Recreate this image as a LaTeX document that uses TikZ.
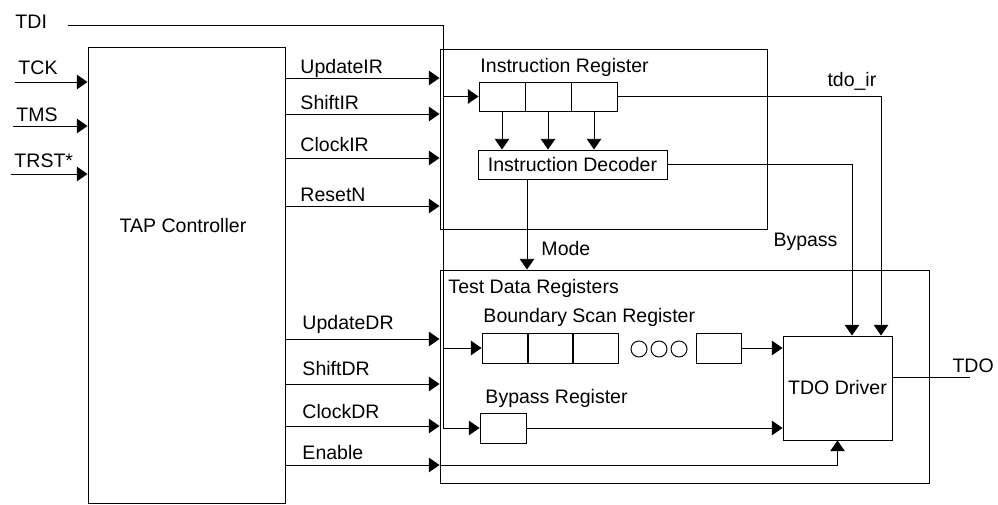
\documentclass[tikz,border=0pt]{standalone}
\usepackage{fontspec}
\setmainfont{Liberation Sans}
\usetikzlibrary{arrows.meta}
\newcommand{\pxl}{0.018cm}

\begin{document}
\begin{tikzpicture}[
x=\pxl, y=-\pxl,
line width=0.5pt,
blk/.style 2 args={draw, inner sep=0pt, minimum width=#1*\pxl, minimum height=#2*\pxl},
lbl/.style={inner sep=0pt, anchor=base west},
sig/.style={-{Triangle[length=5.5pt,width=7.5pt]}},
ring/.style={draw, circle, inner sep=0pt, minimum size=16*\pxl}
]
\useasboundingbox (0,0) rectangle (998,505);

% blocks
\node[blk={197}{456}] (tap) at (186.5,275) {};
\node (taplbl) at (183,226) {TAP Controller};
\node[blk={327}{180}] (ir) at (603.5,139) {};
\node[blk={489}{213}] (tdr) at (684.5,376.5) {};

\node[blk={46}{29}] (ir1) at (502,96.5) {};
\node[blk={46}{29}] (ir2) at (548,96.5) {};
\node[blk={46}{29}] (ir3) at (594,96.5) {};
\node[blk={189}{29}] (dec) at (572.5,164.5) {Instruction Decoder};

\node[blk={46}{30}] (bs1) at (505,348) {};
\node[blk={46}{30}] (bs2) at (550,348) {};
\node[blk={46}{30}] (bs3) at (595,348) {};
\node[ring] (d1) at (639,349) {};
\node[ring] (d2) at (659,349) {};
\node[ring] (d3) at (679,349) {};
\node[blk={45}{30}] (bs4) at (718.5,348) {};
\node[blk={46}{30}] (byp) at (503,428) {};
\node[blk={109}{104}] (drv) at (837.5,388) {TDO Driver};

% titles
\node[lbl] (lir) at (480,73) {Instruction Register};
\node[lbl] (ltdr) at (448,294) {Test Data Registers};
\node[lbl] (lbs) at (483,323) {Boundary Scan Register};
\node[lbl] (lbyp) at (485,403) {Bypass Register};

% inputs
\node[lbl] (ltdi) at (15,29) {TDI};
\foreach \n/\y/\x/\b in {TCK/82/15/75, TMS/126/13/122, TRST*/174/11/168} {
  \coordinate (in\y) at (\x,\y);
  \draw[sig] (in\y) -- (in\y -| tap.west);
  \node[lbl] at (\x+3,\b) {\n};
}

% tap outputs
\foreach \n/\y/\b in {UpdateIR/78/74, ShiftIR/114/110, ClockIR/158/152, ResetN/206/202} {
  \coordinate (o\n) at (285,\y);
  \draw[sig] (o\n) -- (o\n -| ir.west);
  \node[lbl] (l\n) at (300,\b) {\n};
}
\foreach \n/\y/\b in {UpdateDR/339/330, ShiftDR/384/376, ClockDR/426/418, Enable/465/459} {
  \coordinate (o\n) at (285,\y);
  \draw[sig] (o\n) -- (o\n -| tdr.west);
  \node[lbl] (l\n) at (302,\b) {\n};
}

% tdi
\coordinate (tdi) at (68,25);
\coordinate (tdiv) at (443,25);
\draw[sig] (tdi) -- (tdiv) |- (byp.west);
\draw[sig] (tdiv |- ir1.west) -- (ir1.west);
\draw[sig] (tdiv |- bs1.west) -- (bs1.west);

\foreach \c in {ir1,ir2,ir3}
  \draw[sig] (\c.south) -- (\c.south |- dec.north);

% mode
\coordinate (modex) at (527,0);
\draw[sig] (modex |- dec.south) -- (modex |- tdr.north);
\node[lbl] (lmode) at (541,256) {Mode};

% to tdo driver
\coordinate (bpx) at (852,0);
\coordinate (irx) at (881,0);
\draw[sig] (dec.east) -| (bpx |- drv.north);
\draw[sig] (ir3.east) -| (irx |- drv.north);
\node[lbl] (lbp) at (773,247) {Bypass};
\node[lbl] (ltdoir) at (827,87) {tdo\_ir};
\draw[sig] (bs4.east) -- (bs4.east -| drv.west);
\draw[sig] (byp.east) -- (byp.east -| drv.west);
\draw[sig] (oEnable -| tdr.west) -| (drv.south);

\coordinate (tdo) at (970,377);
\draw (tdo -| drv.east) -- (tdo);
\node[lbl] (ltdo) at (952,372) {TDO};

\end{tikzpicture}
\end{document}
